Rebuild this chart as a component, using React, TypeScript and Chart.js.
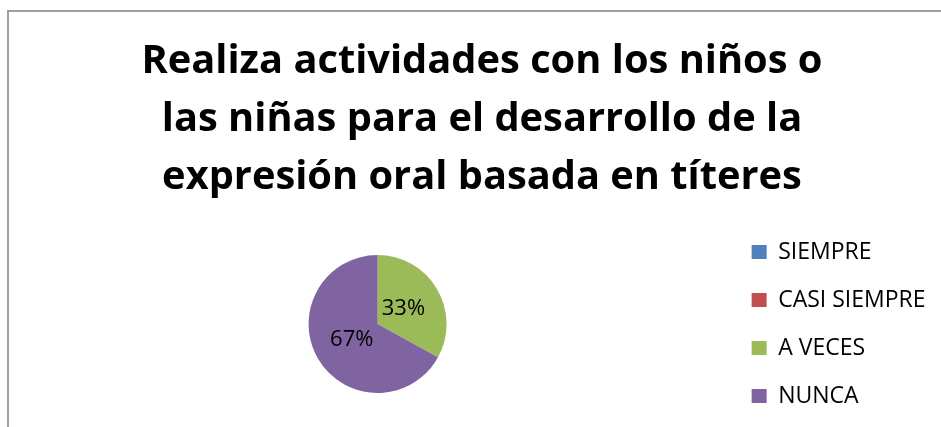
import React, { useEffect, useRef } from "react";
import { Chart, registerables } from "chart.js";

Chart.register(...registerables);

const TITLE_LINES = [
  "Realiza actividades con los niños o",
  "las niñas para el desarrollo de la",
  "expresión oral basada en títeres",
];
const CATEGORIES = ["SIEMPRE", "CASI SIEMPRE", "A VECES", "NUNCA"];
const VALUES = [0, 0, 33, 67];
const COLORS = ["#4F81BD", "#C0504D", "#9BBB59", "#8064A2"];

const FONT = "'Open Sans', Lato, sans-serif";

const percentLabels = {
  id: "percentLabels",
  afterDatasetsDraw(chart: any) {
    const ctx = chart.ctx;
    const meta = chart.getDatasetMeta(0);
    const data = chart.data.datasets[0].data as number[];
    const total = data.reduce((a, b) => a + b, 0);
    ctx.save();
    ctx.fillStyle = "#000";
    ctx.font = `22px ${FONT}`;
    ctx.textAlign = "center";
    ctx.textBaseline = "middle";
    meta.data.forEach((arc: any, i: number) => {
      const v = data[i];
      if (!v) return;
      const { x, y, startAngle, endAngle, outerRadius } = arc.getProps(
        ["x", "y", "startAngle", "endAngle", "outerRadius"],
        true
      );
      const mid = (startAngle + endAngle) / 2;
      const r = outerRadius * 0.435;
      const pct = Math.round((v / total) * 100);
      ctx.fillText(`${pct}%`, x + Math.cos(mid) * r, y + Math.sin(mid) * r);
    });
    ctx.restore();
  },
};

export default function App() {
  const ref = useRef<HTMLCanvasElement | null>(null);
  useEffect(() => {
    document.body.style.margin = "0";
    document.body.style.overflow = "hidden";
    const chart = new Chart(ref.current as HTMLCanvasElement, {
      type: "pie",
      data: {
        labels: CATEGORIES,
        datasets: [
          {
            data: VALUES,
            backgroundColor: COLORS,
            borderWidth: 0,
            radius: 69,
          },
        ],
      },
      options: {
        responsive: false,
        animation: false,
        layout: { padding: { left: 28.5, right: 5.5, top: 0, bottom: 5 } },
        plugins: {
          title: {
            display: true,
            text: TITLE_LINES,
            color: "#000",
            font: { family: FONT, size: 39.8, weight: "bold", lineHeight: 58.3 / 39.8 },
            padding: { top: 32.1, bottom: 0 },
          },
          legend: {
            position: "right",
            fullSize: false,
            labels: {
              color: "#000",
              font: { family: FONT, size: 23 },
              boxWidth: 15,
              boxHeight: 14,
              padding: 25,
            },
          },
          tooltip: { enabled: false },
        },
      },
      plugins: [percentLabels],
    });
    return () => chart.destroy();
  }, []);
  return (
    <div style={{ position: "relative", width: 941, height: 427, overflow: "hidden", background: "#fff" }}>
      <div
        style={{
          position: "absolute",
          left: 7,
          top: 10,
          width: 1200,
          height: 1200,
          borderLeft: "2px solid #a0a0a0",
          borderTop: "2px solid #a0a0a0",
        }}
      />
      <canvas ref={ref} width={941} height={446} style={{ position: "absolute", left: 0, top: 0 }} />
    </div>
  );
}
